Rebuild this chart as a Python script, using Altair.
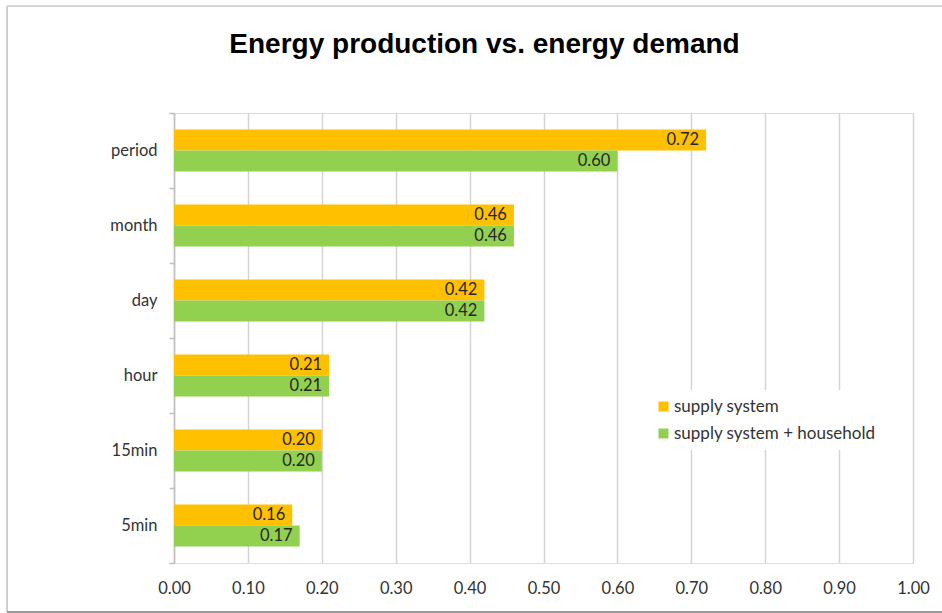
import altair as alt
import pandas as pd

# Resolution of the time series, from coarsest to finest
categories = ["period", "month", "day", "hour", "15min", "5min"]
series = ["supply system", "supply system + household"]
supply_system = [0.72, 0.46, 0.42, 0.21, 0.20, 0.16]
supply_household = [0.60, 0.46, 0.42, 0.21, 0.20, 0.17]
x_ticks = [0.0, 0.1, 0.2, 0.3, 0.4, 0.5, 0.6, 0.7, 0.8, 0.9, 1.0]
colors = ["#FFC000", "#92D050"]

rows = []
for cat, a, b in zip(categories, supply_system, supply_household):
    rows.append({"resolution": cat, "series": series[0], "share": a})
    rows.append({"resolution": cat, "series": series[1], "share": b})
df = pd.DataFrame(rows)

W, H = 739, 450
FONT = "Lato"
TXT = "#333333"

y_enc = alt.Y(
    "resolution:N",
    sort=categories,
    scale=alt.Scale(paddingInner=0, paddingOuter=0),
    axis=alt.Axis(
        title=None,
        tickBand="extent",
        tickSize=5,
        tickColor="#bfbfbf",
        tickWidth=1.5,
        domainColor="#bfbfbf",
        domainWidth=1.5,
        labelPadding=12,
        labelFontSize=16.5,
        labelFont=FONT,
        labelColor=TXT,
        grid=False,
    ),
)
yoff_enc = alt.YOffset(
    "series:N",
    sort=series,
    scale=alt.Scale(paddingInner=0, paddingOuter=0.7857),
)
x_enc = alt.X(
    "share:Q",
    scale=alt.Scale(domain=[0, 1], nice=False),
    axis=alt.Axis(
        title=None,
        values=x_ticks,
        format=".2f",
        ticks=False,
        domain=False,
        grid=True,
        gridColor="#d4d4d4",
        gridWidth=1.5,
        labelFlush=False,
        labelPadding=17,
        labelFontSize=16.5,
        labelFont=FONT,
        labelColor=TXT,
    ),
)

base = alt.Chart(df)

bars = base.mark_bar(size=21).encode(
    x=x_enc,
    y=y_enc,
    yOffset=yoff_enc,
    color=alt.Color(
        "series:N",
        sort=series,
        scale=alt.Scale(domain=series, range=colors),
        legend=alt.Legend(
            title=None,
            orient="none",
            legendX=473,
            legendY=277,
            padding=8,
            fillColor="white",
            symbolType="square",
            symbolSize=100,
            symbolStrokeWidth=0,
            labelFontSize=17,
            labelFont=FONT,
            labelColor=TXT,
            labelOffset=2,
            rowPadding=9,
            labelLimit=400,
        ),
    ),
)

labels = base.mark_text(
    align="right", baseline="middle", dx=-7, fontSize=16.5, font=FONT, color="#262626"
).encode(
    x="share:Q",
    y=alt.Y("resolution:N", sort=categories),
    yOffset=alt.YOffset("series:N", sort=series),
    text=alt.Text("share:Q", format=".2f"),
)

# Outer frame around the whole figure
frame_df = pd.DataFrame({"k": [0]})
frame_left = alt.Chart(frame_df).mark_rule(color="#cfcfcf", strokeWidth=2).encode(
    x=alt.value(-167), y=alt.value(-107), y2=alt.value(499)
)
frame_top = alt.Chart(frame_df).mark_rule(color="#d6d6d6", strokeWidth=2).encode(
    x=alt.value(-167), x2=alt.value(W + 40), y=alt.value(-107)
)
frame_bottom = alt.Chart(frame_df).mark_rule(color="#9a9a9a", strokeWidth=2).encode(
    x=alt.value(-167), x2=alt.value(W + 40), y=alt.value(499)
)

chart = (
    alt.layer(bars, labels, frame_left, frame_top, frame_bottom)
    .properties(
        width=W,
        height=H,
        autosize=alt.AutoSizeParams(type="none"),
        padding={"left": 174, "top": 113, "right": 29, "bottom": 50},
        title=alt.TitleParams(
            "Energy production vs. energy demand",
            font="Liberation Sans",
            fontSize=28,
            fontWeight="bold",
            color="black",
            anchor="middle",
            frame="group",
            dx=-59,
            offset=-54,
        ),
    )
    .configure_view(stroke=None)
    .configure(background="white")
)

chart.save("out.html", embed_options={"renderer": "svg", "actions": False})
